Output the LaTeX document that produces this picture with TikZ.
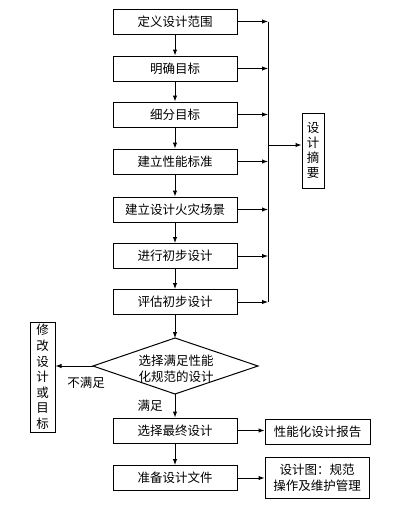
\documentclass[tikz,border=0pt]{standalone}
\usepackage{fontspec}
\newfontfamily\cjk{Noto Sans CJK SC}
\usetikzlibrary{arrows.meta}
\begin{document}
\begin{tikzpicture}[x=1pt,y=-1pt,
  font=\cjk\fontsize{12.5}{15}\selectfont,
  line width=1pt,
  box/.style={draw, line width=1pt, minimum width=124pt, minimum height=25pt, inner sep=0pt},
  side/.style={draw, line width=1pt, inner sep=0pt, align=center},
  arr/.style={-{Latex[length=6pt,width=4.5pt]}, line width=1pt},
  lbl/.style={inner sep=0pt}]
\useasboundingbox (0,0) rectangle (412,512);
\fill[white] (0,0) rectangle (412,512);
% main column
\node[box] (b1) at (175,21.5) {定义设计范围};
\node[box] (b2) at (175,68.5) {明确目标};
\node[box] (b3) at (175,114.5) {细分目标};
\node[box] (b4) at (175,161.5) {建立性能标准};
\node[box] (b5) at (175,209.5) {建立设计火灾场景};
\node[box] (b6) at (175,256) {进行初步设计};
\node[box] (b7) at (175,302) {评估初步设计};
% diamond
\coordinate (dt) at (175,338);
\coordinate (db) at (175,394);
\coordinate (dl) at (93,366);
\coordinate (dr) at (258,366);
\draw (dt) -- (dr) -- (db) -- (dl) -- cycle;
\node[lbl, align=center, font=\cjk\fontsize{12.5}{16}\selectfont] (dtext) at (176,369) {选择满足性能\\化规范的设计};
\node[box] (b8) at (175,430.5) {选择最终设计};
\node[box] (b9) at (175,478) {准备设计文件};
% side boxes
\node[side, minimum width=22pt, minimum height=75pt, font=\cjk\fontsize{12.5}{15}\selectfont] (sum) at (313,150.5) {设\\计\\摘\\要};
\node[side, minimum width=25pt, minimum height=110pt, font=\cjk\fontsize{12.5}{15.6}\selectfont] (mod) at (42.5,377) {修\\改\\设\\计\\或\\目\\标};
\node[side, minimum width=105pt, minimum height=25pt] (r1) at (317.5,431.5) {性能化设计报告};
\node[side, minimum width=104pt, minimum height=41pt, font=\cjk\fontsize{12.5}{16}\selectfont] (r2) at (317,477.5) {设计图：规范\\操作及维护管理};
% labels
\node[lbl] (nsat) at (86,383) {不满足};
\node[lbl] (sat) at (150,406) {满足};
% vertical arrows
\draw[arr] (b1) -- (b2);
\draw[arr] (b2) -- (b3);
\draw[arr] (b3) -- (b4);
\draw[arr] (b4) -- (b5);
\draw[arr] (b5) -- (b6);
\draw[arr] (b6) -- (b7);
\draw[arr] (b7) -- (dt);
\draw[arr] (db) -- (b8);
\draw[arr] (b8) -- (b9);
% bus
\coordinate (bustop) at (268,21.5);
\coordinate (busbot) at (268,302);
\coordinate (busmid) at (268,145);
\draw (bustop) -- (busbot);
\foreach \n in {b1,b2,b3,b4,b5,b6,b7}{
  \draw[arr] (\n.east) -- (\n.east -| bustop);
}
\draw[arr] (busmid) -- (busmid -| sum.west);
% other arrows
\draw[arr] (dl) -- (dl -| mod.east);
\draw[arr] (b8.east) -- (b8.east -| r1.west);
\draw[arr] (b9.east) -- (b9.east -| r2.west);
\end{tikzpicture}
\end{document}
